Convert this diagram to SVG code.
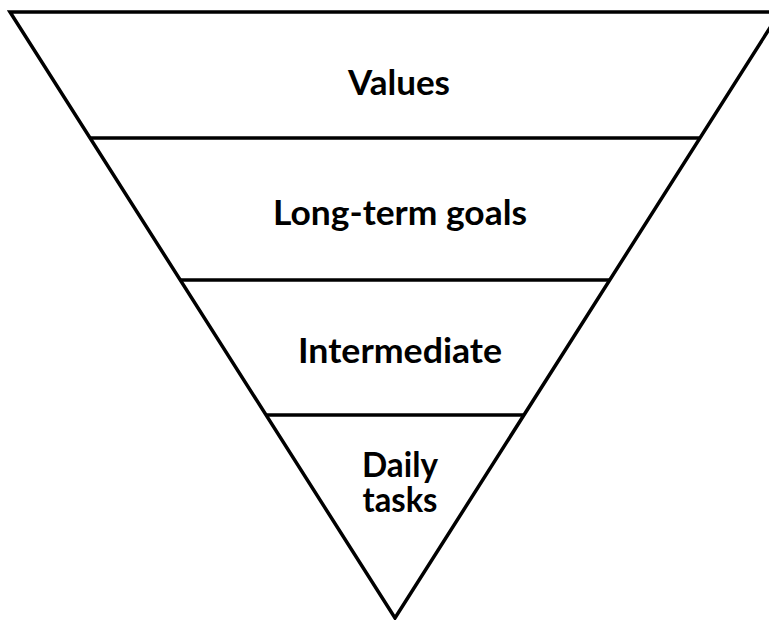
<svg xmlns="http://www.w3.org/2000/svg" width="769" height="620" viewBox="0 0 769 620">
<style>
.ln{stroke:#000;stroke-width:3.5;fill:none;stroke-linejoin:miter}
.t{font-family:Lato,"Open Sans","Liberation Sans",sans-serif;font-weight:700;font-size:35px;fill:#000;text-anchor:middle}
</style>
<rect width="769" height="620" fill="#fff"/>
<g id="funnel">
<polygon class="ln" points="10,12 780,12 395,618"/>
</g>
<g id="connectors">
<line class="ln" x1="90" y1="138" x2="700" y2="138"/>
<line class="ln" x1="180" y1="280" x2="610" y2="280"/>
<line class="ln" x1="266" y1="415" x2="524" y2="415"/>
</g>
<g id="values"><text class="t" x="399" y="95" textLength="102" lengthAdjust="spacingAndGlyphs">Values</text></g>
<g id="long-term-goals"><text class="t" x="400" y="225" textLength="254" lengthAdjust="spacingAndGlyphs">Long-term goals</text></g>
<g id="intermediate"><text class="t" x="400" y="363" textLength="204" lengthAdjust="spacingAndGlyphs">Intermediate</text></g>
<g id="daily-tasks"><text class="t" x="400" y="477" textLength="76" lengthAdjust="spacingAndGlyphs">Daily</text><text class="t" x="400" y="512" textLength="75" lengthAdjust="spacingAndGlyphs">tasks</text></g>
</svg>
